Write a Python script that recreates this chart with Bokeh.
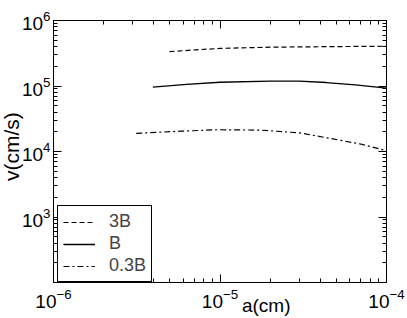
import numpy as np
from bokeh.plotting import figure
from bokeh.models import LogAxis, Legend, LegendItem
from bokeh.core.properties import value
from bokeh.embed import file_html
from bokeh.resources import INLINE

# --- data ---
a_3B = [4.98e-6, 7.1e-6, 1.0e-5, 2.0e-5, 4.0e-5, 1.0e-4]
v_3B = [3.35e5, 3.56e5, 3.75e5, 3.91e5, 3.98e5, 4.05e5]

a_B = [3.95e-6, 6.3e-6, 1.0e-5, 2.0e-5, 3.0e-5, 4.35e-5, 6.5e-5, 1.0e-4]
v_B = [9.6e4, 1.06e5, 1.14e5, 1.19e5, 1.19e5, 1.13e5, 1.04e5, 9.3e4]

a_03B = [3.14e-6, 5.75e-6, 9.6e-6, 1.75e-5, 3.03e-5, 4.6e-5, 7.0e-5, 1.0e-4]
v_03B = [1.89e4, 2.04e4, 2.15e4, 2.12e4, 1.92e4, 1.58e4, 1.30e4, 1.03e4]

series_names = ["3B", "B", "0.3B"]
x_label = "a(cm)"
y_label = "v(cm/s)"
x_label_pos = ([1.355e-5], [45.0])   # x title anchor, data units
y_label_pos = ([5.61e-7], [1.19e4])  # y title anchor, data units

FONT = "Liberation Sans"

p = figure(width=407, height=318, x_axis_type="log", y_axis_type="log",
           x_range=(1e-6, 1e-4), y_range=(1e2, 1e6),
           output_backend="svg", toolbar_location=None,
           min_border_left=53, min_border_right=21,
           min_border_top=20, min_border_bottom=36)
p.grid.visible = False
p.outline_line_color = "black"
p.background_fill_color = "white"
p.border_fill_color = "white"

top_axis = LogAxis(major_label_text_alpha=0, major_label_text_font_size="1px",
                   major_label_standoff=0)
right_axis = LogAxis(major_label_text_alpha=0, major_label_text_font_size="1px",
                     major_label_standoff=0)
p.add_layout(top_axis, "above")
p.add_layout(right_axis, "right")

for ax in p.axis:
    ax.ticker.num_minor_ticks = 10
    ax.major_tick_in = 8
    ax.major_tick_out = 0
    ax.minor_tick_in = 4
    ax.minor_tick_out = 0
    ax.axis_line_color = "black"
    ax.major_tick_line_color = "black"
    ax.minor_tick_line_color = "black"
    ax.major_label_text_font = FONT
    ax.major_label_text_color = "black"

for ax in p.below + p.left:
    ax.major_label_text_font_size = "19px"
p.below[0].major_label_standoff = 6
p.left[0].major_label_standoff = 3
p.left[0].major_label_overrides = {100: " "}

r1 = p.line(a_3B, v_3B, line_color="black", line_width=1.2, line_dash="5 3")
r2 = p.line(a_B, v_B, line_color="black", line_width=1.3)
r3 = p.line(a_03B, v_03B, line_color="black", line_width=1.2, line_dash="6 3 2 3")

legend = Legend(items=[LegendItem(label=series_names[0], renderers=[r1]),
                       LegendItem(label=series_names[1], renderers=[r2]),
                       LegendItem(label=series_names[2], renderers=[r3])],
                location=(4, 0), padding=5, spacing=1, margin=0,
                glyph_height=20, glyph_width=32, label_height=20,
                label_standoff=14, label_text_font=FONT,
                label_text_font_size="18px",
                border_line_color="black", border_line_width=1,
                border_line_alpha=1.0, background_fill_color="white",
                background_fill_alpha=1.0)
p.add_layout(legend)

p.text(x=x_label_pos[0], y=x_label_pos[1], text=[x_label],
       text_font=value(FONT), text_font_size="19px", text_align="left",
       text_baseline="alphabetic", text_color="black", level="overlay")
p.text(x=y_label_pos[0], y=y_label_pos[1], text=[y_label],
       text_font=value(FONT), text_font_size="21px", text_align="center",
       text_baseline="middle", angle=np.pi / 2, text_color="black",
       level="overlay")

open("out.html", "w").write(file_html(p, INLINE))
